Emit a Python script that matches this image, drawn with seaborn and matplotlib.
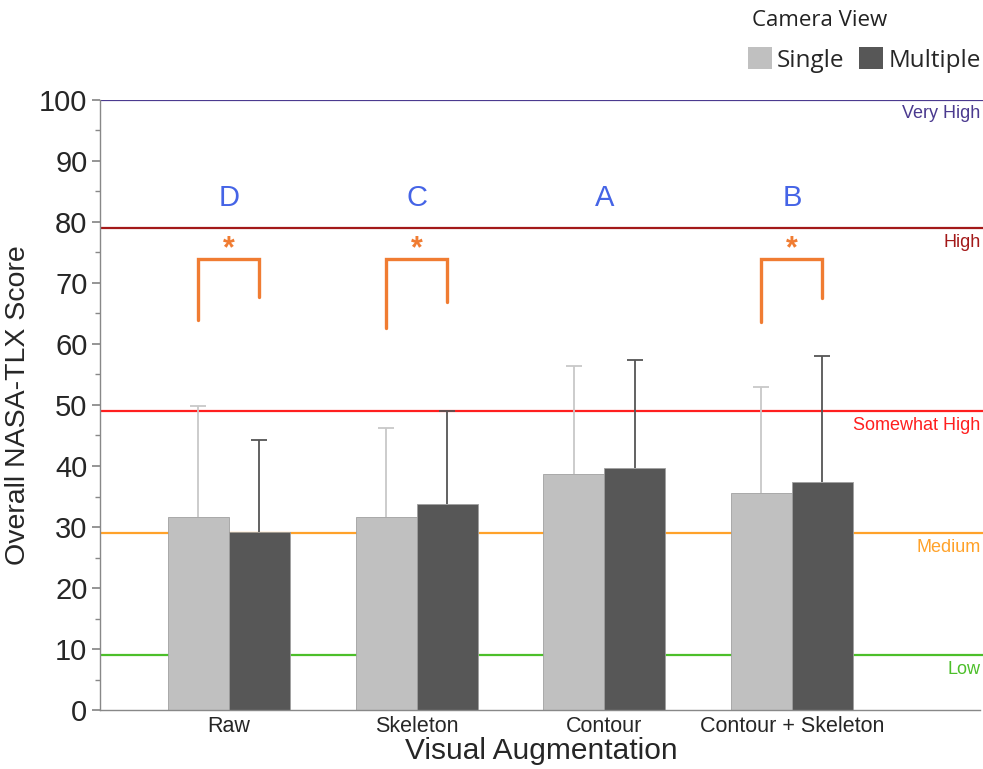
import numpy as np
import pandas as pd
import matplotlib.pyplot as plt
import seaborn as sns
from matplotlib.patches import Patch
from matplotlib.ticker import MultipleLocator

# ==========================================
# DADOS
# ==========================================
categorias = ["Raw", "Skeleton", "Contour", "Contour + Skeleton"]
vistas = ["Single", "Multiple"]
media_single = [31.6, 31.7, 38.7, 35.6]
media_multiple = [29.1, 33.8, 39.6, 37.4]
dp_single = [18.2, 14.5, 17.7, 17.4]
dp_multiple = [15.2, 15.2, 17.8, 20.6]

letras = ["D", "C", "A", "B"]
letra_y = 84.0

# colchetes de significância (None = sem colchete)
colchete_topo = [74.0, 74.0, None, 74.0]
colchete_esq = [63.9, 62.6, None, 63.6]
colchete_dir = [67.7, 66.9, None, 67.5]

niveis = [100, 79, 49, 29, 9]
niveis_nome = ["Very High", "High", "Somewhat High", "Medium", "Low"]
niveis_cor = ["#4b3a8f", "#a31919", "#ff1f1f", "#ffa22a", "#4cbf2a"]

cores_barras = ["#c0c0c0", "#575757"]
cores_erro = ["#c8c8c8", "#555555"]
laranja = "#f07c32"
azul = "#4564e6"

df = pd.DataFrame({
    "Visual Augmentation": categorias * 2,
    "Camera View": ["Single"] * 4 + ["Multiple"] * 4,
    "Score": media_single + media_multiple,
})

sns.set_theme(style="white")
plt.rcParams["font.family"] = ["Liberation Sans", "DejaVu Sans"]

fig = plt.figure(figsize=(9.83, 7.69), dpi=100)
ax = fig.add_axes([0.1017, 0.0767, 0.8983, 0.7933])

# linhas de referência (atrás das barras)
for nivel, nome, cor in zip(niveis, niveis_nome, niveis_cor):
    ax.axhline(nivel, color=cor, lw=1.6, zorder=0.5)
    ax.text(0.997, nivel - 0.9, nome, color=cor, fontsize=13, ha="right", va="top",
            transform=ax.get_yaxis_transform())

sns.barplot(data=df, x="Visual Augmentation", y="Score", hue="Camera View",
            hue_order=vistas, palette=cores_barras, width=0.65, gap=0,
            edgecolor="#a0a0a0", linewidth=0.6, legend=False, ax=ax, zorder=2)

# barras de erro (somente para cima, sem traço inferior)
centros = []
for i, (cont, dps) in enumerate(zip(ax.containers, [dp_single, dp_multiple])):
    xs = np.array([b.get_x() + b.get_width() / 2 for b in cont])
    ys = np.array([b.get_height() for b in cont])
    topos = ys + np.array(dps)
    centros.append(xs)
    ax.vlines(xs, ys, topos, color=cores_erro[i], lw=1.3, zorder=1.5)
    ax.plot(xs, topos, ls="none", marker="_", markersize=12, markeredgewidth=1.3,
            color=cores_erro[i], zorder=1.5)

# letras de agrupamento
for i, letra in enumerate(letras):
    ax.text(i, letra_y, letra, color=azul, fontsize=21, ha="center", va="center")

# colchetes
for i in range(len(categorias)):
    if colchete_topo[i] is None:
        continue
    x0, x1 = centros[0][i], centros[1][i]
    ax.plot([x0, x0, x1, x1], [colchete_esq[i], colchete_topo[i], colchete_topo[i], colchete_dir[i]],
            color=laranja, lw=2.4, solid_joinstyle="miter", zorder=3)
    ax.text((x0 + x1) / 2, colchete_topo[i] + 1.5, "*", color=laranja, fontsize=22,
            fontweight="bold", ha="center", va="center")

ax.set_xlim(-0.687, 4.018)
ax.set_ylim(0, 100)
ax.yaxis.set_major_locator(MultipleLocator(10))
ax.yaxis.set_minor_locator(MultipleLocator(5))
ax.tick_params(axis="y", which="major", labelsize=21, length=6, color="#888888", left=True, pad=3)
ax.tick_params(axis="y", which="minor", length=3.5, color="#888888", left=True)
ax.tick_params(axis="x", labelsize=15.5, length=0, pad=4)
ax.set_ylabel("Overall NASA-TLX Score", fontsize=20.5, labelpad=6)
ax.set_xlabel("Visual Augmentation", fontsize=21.5, labelpad=0)

sns.despine(ax=ax, top=True, right=True)
for lado in ["left", "bottom"]:
    ax.spines[lado].set_color("#888888")
    ax.spines[lado].set_linewidth(1.0)
ax.spines["bottom"].set_bounds(-0.687, 4.0)

# legenda (título separado para controlar o espaçamento)
fonte_leg = ["Open Sans", "DejaVu Sans"]
fig.text(752 / 983, 1 - 20 / 769, "Camera View", fontsize=16, family=fonte_leg,
         ha="left", va="center", color="#222222")
alcas = [Patch(facecolor=c, edgecolor="none") for c in cores_barras]
leg = fig.legend(alcas, vistas, loc="center right", bbox_to_anchor=(1.0, 1 - 60 / 769),
                 ncol=2, frameon=False, handlelength=1.0, handleheight=1.0,
                 handletextpad=0.2, columnspacing=0.6, borderaxespad=0.0, borderpad=0.1,
                 prop={"family": fonte_leg, "size": 17.5})

plt.savefig("out.png", dpi=100)
